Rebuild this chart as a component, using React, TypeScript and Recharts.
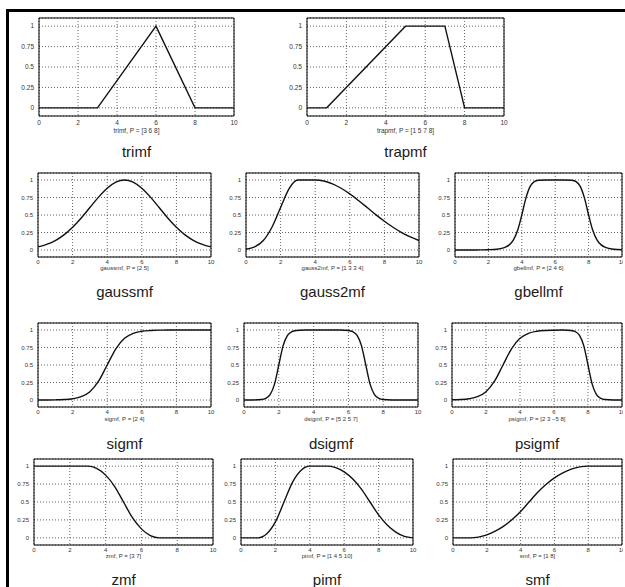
import React from 'react';
import { LineChart, Line, XAxis, YAxis, CartesianGrid, ReferenceArea } from 'recharts';

// ---------- shared axes ----------
const xTicks = [0, 2, 4, 6, 8, 10];
const xTickLabels = ['0', '2', '4', '6', '8', '10'];
const yTicks = [0, 0.25, 0.5, 0.75, 1];
const yTickLabels = ['0', '0.25', '0.5', '0.75', '1'];

// ---------- data ----------
const xHalf = [0, 0.5, 1, 1.5, 2, 2.5, 3, 3.5, 4, 4.5, 5, 5.5, 6, 6.5, 7, 7.5, 8, 8.5, 9, 9.5, 10];

const trimfX = [0, 3, 6, 8, 10];
const trimfY = [0, 0, 1, 0, 0];

const trapmfX = [0, 1, 5, 7, 8, 10];
const trapmfY = [0, 0, 1, 1, 0, 0];

const gaussmfY = [0.044, 0.080, 0.135, 0.216, 0.325, 0.458, 0.607, 0.755, 0.882, 0.969, 1, 0.969, 0.882, 0.755, 0.607, 0.458, 0.325, 0.216, 0.135, 0.080, 0.044];

const gauss2mfY = [0.011, 0.044, 0.135, 0.325, 0.607, 0.882, 1, 1, 1, 0.986, 0.946, 0.882, 0.801, 0.707, 0.607, 0.506, 0.411, 0.325, 0.249, 0.186, 0.135];

const gbellmfX = [0, 0.5, 1, 1.5, 2, 2.5, 3, 3.25, 3.5, 3.75, 4, 4.25, 4.5, 4.75, 5, 5.5, 6, 6.5, 7, 7.25, 7.5, 7.75, 8, 8.25, 8.5, 8.75, 9, 9.5, 10];
const gbellmfY = [0.0002, 0.0003, 0.0007, 0.0015, 0.0039, 0.011, 0.038, 0.073, 0.144, 0.281, 0.5, 0.744, 0.909, 0.977, 0.996, 1, 1, 1, 0.996, 0.977, 0.909, 0.744, 0.5, 0.281, 0.144, 0.073, 0.038, 0.011, 0.004];

const sigmfY = [0.0003, 0.0009, 0.0025, 0.0067, 0.018, 0.047, 0.119, 0.269, 0.5, 0.731, 0.881, 0.953, 0.982, 0.993, 0.998, 0.999, 1, 1, 1, 1, 1];

const dsigmfX = [0, 0.5, 1, 1.25, 1.5, 1.75, 2, 2.25, 2.5, 2.75, 3, 3.5, 4, 4.5, 5, 5.5, 6, 6.25, 6.5, 6.75, 7, 7.25, 7.5, 7.75, 8, 8.5, 9, 9.5, 10];
const dsigmfY = [0, 0.0006, 0.0067, 0.023, 0.076, 0.223, 0.5, 0.777, 0.924, 0.977, 0.993, 0.999, 1, 1, 1, 0.999, 0.993, 0.977, 0.924, 0.777, 0.5, 0.223, 0.076, 0.023, 0.0067, 0.0006, 0, 0, 0];

const psigmfX = [0, 0.5, 1, 1.5, 2, 2.5, 3, 3.5, 4, 4.5, 5, 5.5, 6, 6.5, 7, 7.25, 7.5, 7.75, 8, 8.25, 8.5, 8.75, 9, 9.5, 10];
const psigmfY = [0.0025, 0.0067, 0.018, 0.047, 0.119, 0.269, 0.5, 0.731, 0.881, 0.953, 0.982, 0.993, 0.997, 0.999, 0.993, 0.977, 0.924, 0.777, 0.5, 0.223, 0.076, 0.023, 0.0067, 0.0006, 0];

const zmfY = [1, 1, 1, 1, 1, 1, 1, 0.969, 0.875, 0.719, 0.5, 0.281, 0.125, 0.031, 0, 0, 0, 0, 0, 0, 0];

const pimfY = [0, 0, 0, 0.056, 0.222, 0.5, 0.778, 0.944, 1, 1, 1, 0.98, 0.92, 0.82, 0.68, 0.5, 0.32, 0.18, 0.08, 0.02, 0];

const smfY = [0, 0, 0, 0.010, 0.041, 0.092, 0.163, 0.255, 0.367, 0.5, 0.633, 0.745, 0.837, 0.908, 0.959, 0.990, 1, 1, 1, 1, 1];

// ---------- panel ----------
type PanelProps = {
  xs: number[];
  ys: number[];
  left: number;
  top: number;
  w: number;
  h: number;
  curve: 'linear' | 'monotone';
  xlabel: string;
  title: string;
  fs: number;
  tickDy: number;
  xlabelDy: number;
  titleY: number;
};

const ML = 40;
const MT = 4;
const MR = 7;
const MB = 16;
const SMALL_FONT = "'Liberation Sans', Arial, sans-serif";

function Panel(p: PanelProps) {
  const data = p.xs.map((x, i) => ({ x, y: p.ys[i] }));
  const XTick = (props: any) => {
    const idx = xTicks.indexOf(props.payload.value);
    return (
      <text x={props.x} y={props.y + p.tickDy} textAnchor="middle" fontSize={p.fs} fill="#333" fontFamily={SMALL_FONT}>
        {xTickLabels[idx]}
      </text>
    );
  };
  const YTick = (props: any) => {
    const idx = yTicks.indexOf(props.payload.value);
    return (
      <text x={props.x - 5} y={props.y} dy="0.35em" textAnchor="end" fontSize={p.fs} fill="#333" fontFamily={SMALL_FONT}>
        {yTickLabels[idx]}
      </text>
    );
  };
  const cx = p.left + p.w / 2;
  const xlabelY = p.top + p.h + p.xlabelDy;
  return (
    <>
      <div style={{ position: 'absolute', left: p.left - ML, top: p.top - MT }}>
        <LineChart width={p.w + ML + MR} height={p.h + MT + MB} data={data} margin={{ top: MT, right: MR, left: 0, bottom: 0 }}>
          <CartesianGrid stroke="#222" strokeDasharray="1 2" strokeWidth={0.7} />
          <XAxis dataKey="x" type="number" domain={[0, 10]} ticks={xTicks} interval={0} height={MB} tickSize={0} tickMargin={0} axisLine={false} tickLine={false} tick={XTick} allowDataOverflow />
          <YAxis type="number" domain={[-0.1, 1.1]} ticks={yTicks} interval={0} width={ML} tickSize={0} tickMargin={0} axisLine={false} tickLine={false} tick={YTick} allowDataOverflow />
          <ReferenceArea x1={0} x2={10} y1={-0.1} y2={1.1} fill="none" fillOpacity={0} stroke="#000" strokeWidth={1} strokeOpacity={1} />
          <Line dataKey="y" type={p.curve} stroke="#111" strokeWidth={1.4} dot={false} activeDot={false} isAnimationActive={false} />
        </LineChart>
      </div>
      <div style={{ position: 'absolute', left: cx - 80, width: 160, top: xlabelY - 4, height: 8, lineHeight: '8px', textAlign: 'center', fontSize: p.fs, fontFamily: SMALL_FONT, color: '#333', whiteSpace: 'nowrap' }}>
        {p.xlabel}
      </div>
      <div style={{ position: 'absolute', left: cx - 80, width: 160, top: p.titleY - 9, height: 18, lineHeight: '18px', textAlign: 'center', fontSize: 15, fontFamily: SMALL_FONT, color: '#1a1a1a', whiteSpace: 'nowrap' }}>
        {p.title}
      </div>
    </>
  );
}

export default function App() {
  const r1 = { top: 18, h: 98, fs: 6.5, tickDy: 8.5, xlabelDy: 15, titleY: 152 };
  const r2 = { top: 173, h: 84, fs: 6, tickDy: 7, xlabelDy: 11, titleY: 292 };
  const r3 = { top: 323, h: 84, fs: 6, tickDy: 7, xlabelDy: 11.5, titleY: 444 };
  const r4 = { top: 459, h: 86, fs: 6, tickDy: 6.5, xlabelDy: 10.5, titleY: 580 };
  return (
    <div style={{ position: 'absolute', left: 0, top: 0, width: 625, height: 587, background: '#fff', overflow: 'hidden' }}>
      <div style={{ position: 'absolute', left: 6, top: 9, width: 619, height: 3, background: '#000' }} />
      <div style={{ position: 'absolute', left: 6, top: 9, width: 3, height: 578, background: '#000' }} />

      <Panel {...r1} xs={trimfX} ys={trimfY} left={39} w={195} curve="linear" xlabel="trimf, P = [3 6 8]" title="trimf" />
      <Panel {...r1} xs={trapmfX} ys={trapmfY} left={307} w={197} curve="linear" xlabel="trapmf, P = [1 5 7 8]" title="trapmf" />

      <Panel {...r2} xs={xHalf} ys={gaussmfY} left={38} w={173} curve="monotone" xlabel="gaussmf, P = [2 5]" title="gaussmf" />
      <Panel {...r2} xs={xHalf} ys={gauss2mfY} left={246} w={173} curve="monotone" xlabel="gauss2mf, P = [1 3 3 4]" title="gauss2mf" />
      <Panel {...r2} xs={gbellmfX} ys={gbellmfY} left={455} w={167} curve="monotone" xlabel="gbellmf, P = [2 4 6]" title="gbellmf" />

      <Panel {...r3} xs={xHalf} ys={sigmfY} left={38} w={173} curve="monotone" xlabel="sigmf, P = [2 4]" title="sigmf" />
      <Panel {...r3} xs={dsigmfX} ys={dsigmfY} left={244} w={174} curve="monotone" xlabel="dsigmf, P = [5 2 5 7]" title="dsigmf" />
      <Panel {...r3} xs={psigmfX} ys={psigmfY} left={452} w={170} curve="monotone" xlabel="psigmf, P = [2 3 −5 8]" title="psigmf" />

      <Panel {...r4} xs={xHalf} ys={zmfY} left={34} w={179} curve="monotone" xlabel="zmf, P = [3 7]" title="zmf" />
      <Panel {...r4} xs={xHalf} ys={pimfY} left={241} w={172} curve="monotone" xlabel="pimf, P = [1 4 5 10]" title="pimf" />
      <Panel {...r4} xs={xHalf} ys={smfY} left={453} w={169} curve="monotone" xlabel="smf, P = [1 8]" title="smf" />

      <div style={{ position: 'absolute', left: 623, top: 12, width: 2, height: 575, background: '#fff', zIndex: 10 }} />
    </div>
  );
}
